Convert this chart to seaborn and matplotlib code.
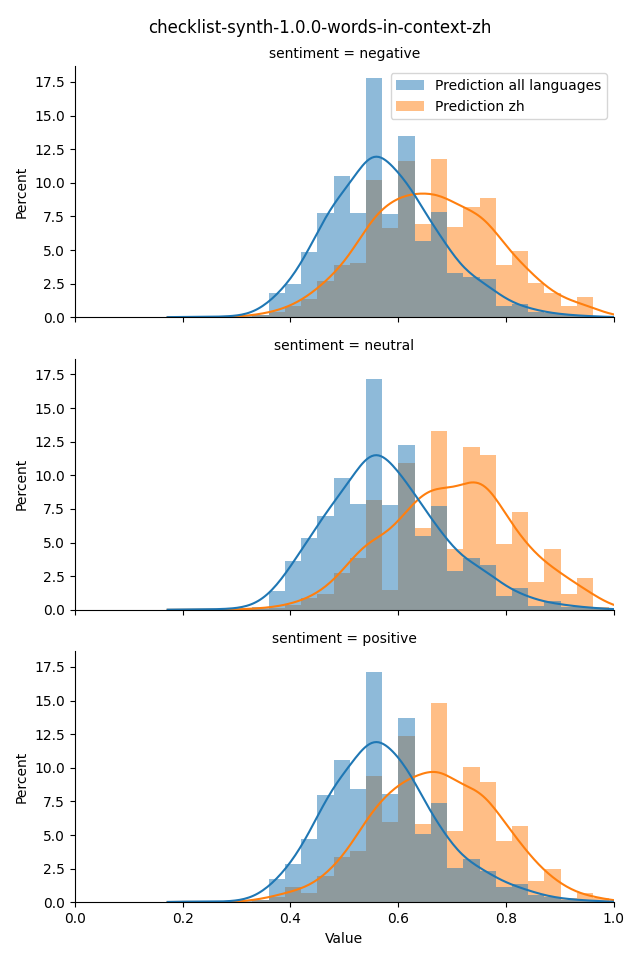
import numpy as np
import pandas as pd
import matplotlib
matplotlib.use("Agg")
import matplotlib.pyplot as plt
import matplotlib.patches as mpatches
import seaborn as sns

# histogram bins shared by all facets
bin_start = 0.179
bin_width = 0.0301
n_bins = 28
bin_centers = bin_start + bin_width * (np.arange(n_bins) + 0.5)

sentiments = ["negative", "neutral", "positive"]
series_names = ["Prediction all languages", "Prediction zh"]

# percent per bin
neg_all = [0.05, 0.0, 0.05, 0.05, 0.1, 0.15, 1.8, 2.44, 4.76, 7.56, 10.3, 7.6, 17.4, 7.5,
           13.2, 5.56, 7.63, 3.19, 2.91, 2.81, 0.84, 1.0, 0.4, 0.3, 0.15, 0.1, 0.05, 0.0]
neg_zh = [0.0, 0.0, 0.0, 0.0, 0.05, 0.2, 0.4, 0.81, 1.38, 2.67, 3.85, 4.07, 10.22, 6.6,
          11.58, 6.96, 11.78, 6.74, 8.22, 8.89, 3.85, 4.89, 2.54, 1.8, 0.84, 1.48, 0.1, 0.0]

neu_all = [0.05, 0.0, 0.05, 0.05, 0.1, 0.2, 1.36, 3.57, 5.29, 6.95, 9.7, 7.82, 16.98, 7.74,
           12.14, 5.47, 7.62, 2.83, 3.8, 3.28, 1.04, 1.64, 0.3, 0.67, 0.22, 0.2, 0.1, 0.0]
neu_zh = [0.0, 0.0, 0.0, 0.0, 0.05, 0.1, 0.17, 0.37, 0.89, 1.21, 2.7, 3.87, 8.12, 1.49,
          10.87, 6.05, 13.25, 4.52, 12.06, 11.47, 4.87, 7.22, 2.08, 4.54, 1.19, 2.38, 0.2, 0.0]

pos_all = [0.1, 0.05, 0.05, 0.05, 0.1, 0.2, 1.76, 2.83, 4.69, 7.97, 10.57, 8.41, 17.13, 8.04,
           13.7, 5.09, 7.37, 2.53, 3.2, 2.33, 1.12, 1.34, 0.52, 0.37, 0.2, 0.15, 0.1, 0.0]
pos_zh = [0.1, 0.0, 0.0, 0.0, 0.05, 0.2, 0.4, 1.12, 0.67, 2.01, 3.37, 3.87, 9.46, 6.03,
          12.51, 5.88, 14.97, 5.36, 10.13, 9.01, 4.62, 5.73, 1.64, 2.53, 0.3, 0.67, 0.3, 0.0]

heights = {
    "negative": (neg_all, neg_zh),
    "neutral": (neu_all, neu_zh),
    "positive": (pos_all, pos_zh),
}

rows = []
for s in sentiments:
    for name, vals in zip(series_names, heights[s]):
        for c, v in zip(bin_centers, vals):
            rows.append({"sentiment": s, "Value": c, "pct": v, "model": name})
df = pd.DataFrame(rows)

g = sns.displot(
    data=df, x="Value", weights="pct", hue="model", hue_order=series_names,
    row="sentiment", row_order=sentiments, kind="hist", stat="percent",
    common_norm=False, kde=True, binwidth=bin_width,
    binrange=(bin_start, bin_start + bin_width * n_bins),
    kde_kws={"bw_adjust": 0.5, "cut": 0.5},
    line_kws={"linewidth": 1.5},
    linewidth=0,
    height=3.2, aspect=2, legend=False, facet_kws={"sharex": True, "sharey": True},
)
g.set(xlim=(0, 1))
g.set_ylabels("Percent")

colors = sns.color_palette()[:2]
handles = [mpatches.Patch(facecolor=c, alpha=0.5, label=n) for c, n in zip(colors, series_names)]
g.axes[0, 0].legend(handles=handles, loc="upper right")

g.figure.suptitle("checklist-synth-1.0.0-words-in-context-zh")
g.figure.subplots_adjust(left=0.117, right=0.959, top=0.931, bottom=0.060, hspace=0.165)
g.figure.set_size_inches(6.4, 9.6)
g.figure.savefig("out.png", dpi=100)
